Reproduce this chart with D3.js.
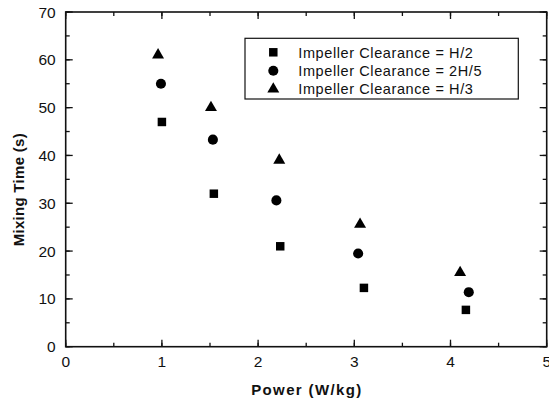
<!DOCTYPE html>
<html><head><meta charset="utf-8">
<script src="https://cdn.jsdelivr.net/npm/d3@7"></script>
<style>body{margin:0;background:#fff}svg{display:block}</style>
</head><body>
<svg id="c" width="549" height="401"></svg>
<script>
const seriesNames = ["Impeller Clearance = H/2", "Impeller Clearance = 2H/5", "Impeller Clearance = H/3"];
const symbols = ["square", "circle", "triangle"];
const xH2 = [1.00, 1.54, 2.23, 3.10, 4.16];
const yH2 = [47.0, 32.0, 21.0, 12.3, 7.7];
const x2H5 = [0.99, 1.53, 2.19, 3.04, 4.19];
const y2H5 = [55.0, 43.3, 30.6, 19.5, 11.4];
const xH3 = [0.96, 1.51, 2.22, 3.06, 4.10];
const yH3 = [61.0, 50.0, 39.0, 25.6, 15.5];
const xTicks = [0, 1, 2, 3, 4, 5];
const yTicks = [0, 10, 20, 30, 40, 50, 60, 70];

const svg = d3.select("#c");
const L = 65.7, R = 546.7, T = 12, B = 346.7;
const x = d3.scaleLinear().domain([0, 5]).range([L, R]);
const y = d3.scaleLinear().domain([0, 70]).range([B, T]);
const font = "'Liberation Sans', Arial, sans-serif";
const col = "#111";

const xMinor = d3.range(0, 5.01, 0.5);
const yMinor = d3.range(0, 70.1, 5);
const g = svg.append("g");
function ticksX(vals, len, ypos, dir) {
  g.selectAll(null).data(vals).enter().append("line")
    .attr("x1", d => x(d)).attr("x2", d => x(d))
    .attr("y1", ypos).attr("y2", ypos + dir * len)
    .attr("stroke", col).attr("stroke-width", 1.3);
}
function ticksY(vals, len, xpos, dir) {
  g.selectAll(null).data(vals).enter().append("line")
    .attr("y1", d => y(d)).attr("y2", d => y(d))
    .attr("x1", xpos).attr("x2", xpos + dir * len)
    .attr("stroke", col).attr("stroke-width", 1.3);
}
ticksX(xMinor, 4, B, -1); ticksX(xTicks, 7, B, -1);
ticksX(xMinor, 4, T, 1); ticksX(xTicks, 7, T, 1);
ticksY(yMinor, 4, L, 1); ticksY(yTicks, 7, L, 1);
ticksY(yMinor, 4, R, -1); ticksY(yTicks, 7, R, -1);

g.append("rect").attr("x", L).attr("y", T).attr("width", R - L).attr("height", B - T)
  .attr("fill", "none").attr("stroke", col).attr("stroke-width", 1.6);

svg.selectAll(null).data(xTicks).enter().append("text")
  .attr("x", d => x(d)).attr("y", 366.5).attr("text-anchor", "middle")
  .attr("font-family", font).attr("font-size", 15.5).attr("fill", col).text(d => d);
svg.selectAll(null).data(yTicks).enter().append("text")
  .attr("x", L - 10).attr("y", d => y(d) + 5.5).attr("text-anchor", "end")
  .attr("font-family", font).attr("font-size", 15.5).attr("fill", col).text(d => d);

svg.append("text").attr("x", x(2.5)).attr("y", 395).attr("text-anchor", "middle")
  .attr("font-family", font).attr("font-size", 15).attr("font-weight", "bold").attr("fill", col)
  .attr("textLength", 110).attr("lengthAdjust", "spacing")
  .text("Power (W/kg)");
svg.append("text").attr("transform", "translate(24," + ((T + B) / 2 + 10.5) + ") rotate(-90)")
  .attr("text-anchor", "middle")
  .attr("font-family", font).attr("font-size", 15).attr("font-weight", "bold").attr("fill", col)
  .attr("textLength", 113).attr("lengthAdjust", "spacing")
  .text("Mixing Time (s)");

const symMap = { square: d3.symbolSquare, circle: d3.symbolCircle, triangle: d3.symbolTriangle };
const symSize = { square: 72, circle: 80, triangle: 62 };
const data = [
  xH2.map((v, i) => [v, yH2[i]]),
  x2H5.map((v, i) => [v, y2H5[i]]),
  xH3.map((v, i) => [v, yH3[i]])
];
data.forEach((pts, si) => {
  const s = symbols[si];
  svg.selectAll(null).data(pts).enter().append("path")
    .attr("transform", d => `translate(${x(d[0])},${y(d[1])})`)
    .attr("d", d3.symbol().type(symMap[s]).size(symSize[s]))
    .attr("fill", "#000");
});

// legend
const lg = svg.append("g");
lg.append("rect").attr("x", 245).attr("y", 38.3).attr("width", 273.3).attr("height", 60.7)
  .attr("fill", "#fff").attr("stroke", col).attr("stroke-width", 1.2);
seriesNames.forEach((n, i) => {
  const cy = 52.3 + i * 18.4;
  lg.append("path").attr("transform", `translate(273.3,${cy})`)
    .attr("d", d3.symbol().type(symMap[symbols[i]]).size(symSize[symbols[i]]))
    .attr("fill", "#000");
  lg.append("text").attr("x", 298.3).attr("y", cy + 5.3)
    .attr("font-family", font).attr("font-size", 14.5).attr("letter-spacing", 0.6)
    .attr("fill", col).text(n);
});
</script>
</body></html>
